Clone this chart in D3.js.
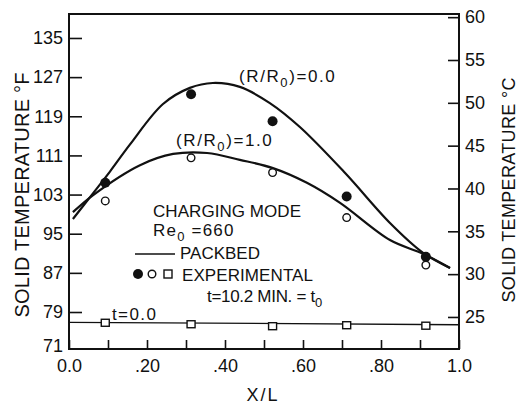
<!DOCTYPE html>
<html>
<head>
<meta charset="utf-8">
<script src="https://cdn.jsdelivr.net/npm/d3@7"></script>
<style>
  body { margin: 0; background: #fff; }
  text { font-family: "Liberation Sans", Arial, sans-serif; fill: #111; }
</style>
</head>
<body>
<script>
// x positions along the bed (X/L)
var xTicks = [0, 0.1, 0.2, 0.3, 0.4, 0.5, 0.6, 0.7, 0.8, 0.9, 1.0];
var fTicks = [71, 79, 87, 95, 103, 111, 119, 127, 135];
var cTicks = [25, 30, 35, 40, 45, 50, 55, 60];

// packbed model curves (X/L, deg F)
var curveR00 = [[0.010, 98.0], [0.062, 103.3], [0.105, 107.7], [0.156, 113.2], [0.241, 121.5],
  [0.310, 124.8], [0.369, 125.8], [0.438, 125.0], [0.515, 121.7], [0.592, 116.8],
  [0.708, 107.4], [0.823, 97.2], [0.908, 91.1], [0.977, 88.0]];
var curveR10 = [[0.010, 99.4], [0.062, 102.9], [0.182, 109.0], [0.267, 111.3], [0.354, 111.5],
  [0.438, 110.1], [0.523, 108.4], [0.610, 105.4], [0.695, 101.3], [0.823, 93.7],
  [0.908, 90.9], [0.977, 88.0]];
var curveT0 = [[0, 76.9], [1, 76.4]];

// experimental points
var expX = [0.093, 0.313, 0.522, 0.712, 0.915];
var expR00 = [105.4, 123.5, 118.0, 102.6, 90.3];
var expR10 = [101.7, 110.5, 107.5, 98.3, 88.6];
var expT0 = [76.8, 76.5, 76.1, 76.3, 76.2];

var w = 519, h = 404;
var svg = d3.select("body").append("svg").attr("width", w).attr("height", h);

var x = d3.scaleLinear().domain([0, 1]).range([69, 459]);
var yF = d3.scaleLinear().domain([71.44, 139.9]).range([349, 14]);
var yC = d3.scaleLinear().domain([21.26, 60.37]).range([349, 14]);

// axes
var xAxis = d3.axisBottom(x).tickValues(xTicks).tickSize(-9).tickPadding(10)
  .tickFormat(function(d, i) {
    if (i % 2) return "";
    if (i == 0) return "0.0";
    if (i == 10) return "1.0";
    return "." + (i * 10);
  });
var gx = svg.append("g").attr("transform", "translate(0,349)").call(xAxis);

var gl = svg.append("g").attr("transform", "translate(69,0)")
  .call(d3.axisLeft(yF).tickValues(fTicks).tickSize(-13).tickPadding(6));
gl.selectAll(".tick").filter(function(d) { return d == 71; })
  .each(function() {
    d3.select(this).select("line").remove();
    d3.select(this).select("text").attr("y", -5);
  });

var gr = svg.append("g").attr("transform", "translate(459,0)")
  .call(d3.axisRight(yC).tickValues(cTicks).tickSize(-11).tickPadding(6));

[gx, gl, gr].forEach(function(g) {
  g.select(".domain").remove();
  g.selectAll(".tick line").attr("stroke", "#111").attr("stroke-width", 1.6);
  g.selectAll(".tick text").attr("font-size", 18).attr("font-family", "Liberation Sans, Arial, sans-serif").attr("fill", "#111");
});

// frame
svg.append("rect").attr("x", 69).attr("y", 14).attr("width", 390).attr("height", 335)
  .attr("fill", "none").attr("stroke", "#111").attr("stroke-width", 2);

// curves
var line = d3.line().x(function(d) { return x(d[0]); }).y(function(d) { return yF(d[1]); })
  .curve(d3.curveCatmullRom.alpha(0.5));
svg.append("path").datum(curveR00).attr("d", line).attr("fill", "none")
  .attr("stroke", "#111").attr("stroke-width", 2.2);
svg.append("path").datum(curveR10).attr("d", line).attr("fill", "none")
  .attr("stroke", "#111").attr("stroke-width", 2.2);
svg.append("path").datum(curveT0).attr("d", d3.line().x(function(d) { return x(d[0]); }).y(function(d) { return yF(d[1]); }))
  .attr("fill", "none").attr("stroke", "#111").attr("stroke-width", 1.3);

// points
svg.selectAll("circle.r00").data(expX).enter().append("circle").attr("class", "r00")
  .attr("cx", function(d) { return x(d); })
  .attr("cy", function(d, i) { return yF(expR00[i]); })
  .attr("r", 5).attr("fill", "#111");
svg.selectAll("circle.r10").data(expX).enter().append("circle").attr("class", "r10")
  .attr("cx", function(d) { return x(d); })
  .attr("cy", function(d, i) { return yF(expR10[i]); })
  .attr("r", 3.8).attr("fill", "#fff").attr("stroke", "#111").attr("stroke-width", 1.4);
svg.selectAll("rect.t0").data(expX).enter().append("rect").attr("class", "t0")
  .attr("x", function(d) { return x(d) - 4; })
  .attr("y", function(d, i) { return yF(expT0[i]) - 3.5; })
  .attr("width", 8).attr("height", 7).attr("fill", "#fff").attr("stroke", "#111").attr("stroke-width", 1.4);

// text helper with subscript zero
function label(xp, yp, parts, opts) {
  var t = svg.append("text").attr("x", xp).attr("y", yp).attr("font-size", 17);
  if (opts && opts.ls != null) t.attr("letter-spacing", opts.ls);
  if (opts && opts.len) t.attr("textLength", opts.len).attr("lengthAdjust", "spacing");
  parts.forEach(function(p) {
    if (p.sub) t.append("tspan").attr("font-size", 13).attr("dy", 5).text(p.sub);
    else t.append("tspan").attr("dy", p.up ? -5 : 0).text(p.t);
  });
  return t;
}

label(239, 82, [{t: "(R/R"}, {sub: "0"}, {t: ")=0.0", up: true}], {ls: 1.6});
label(176, 146, [{t: "(R/R"}, {sub: "0"}, {t: ")=1.0", up: true}], {ls: 1.6});
label(153, 217, [{t: "CHARGING MODE"}], {len: 148});
label(153, 236, [{t: "Re"}, {sub: "0"}, {t: " =660", up: true}], {ls: 1.2});
label(180, 259, [{t: "PACKBED"}]);
label(182, 281, [{t: "EXPERIMENTAL"}], {len: 131});
label(207, 302, [{t: "t=10.2 MIN. = t"}, {sub: "0"}], {ls: -0.3});
label(112, 320, [{t: "t=0.0"}], {ls: 1.4});

// legend symbols
svg.append("line").attr("x1", 135).attr("x2", 175).attr("y1", 254).attr("y2", 254)
  .attr("stroke", "#111").attr("stroke-width", 1.3);
svg.append("circle").attr("cx", 138).attr("cy", 274).attr("r", 5).attr("fill", "#111");
svg.append("circle").attr("cx", 152).attr("cy", 274).attr("r", 3.8).attr("fill", "#fff")
  .attr("stroke", "#111").attr("stroke-width", 1.4);
svg.append("rect").attr("x", 164).attr("y", 270).attr("width", 8).attr("height", 8)
  .attr("fill", "#fff").attr("stroke", "#111").attr("stroke-width", 1.4);

// axis titles
svg.append("text").attr("transform", "translate(29,195) rotate(-90)").attr("text-anchor", "middle")
  .attr("font-size", 20).attr("textLength", 245).attr("lengthAdjust", "spacing")
  .text("SOLID TEMPERATURE \u00B0F");
svg.append("text").attr("transform", "translate(515,190) rotate(-90)").attr("text-anchor", "middle")
  .attr("font-size", 18).attr("textLength", 225).attr("lengthAdjust", "spacing")
  .text("SOLID TEMPERATURE \u00B0C");
svg.append("text").attr("x", 263).attr("y", 401).attr("text-anchor", "middle")
  .attr("font-size", 18).attr("letter-spacing", 2).text("X/L");
</script>
</body>
</html>
